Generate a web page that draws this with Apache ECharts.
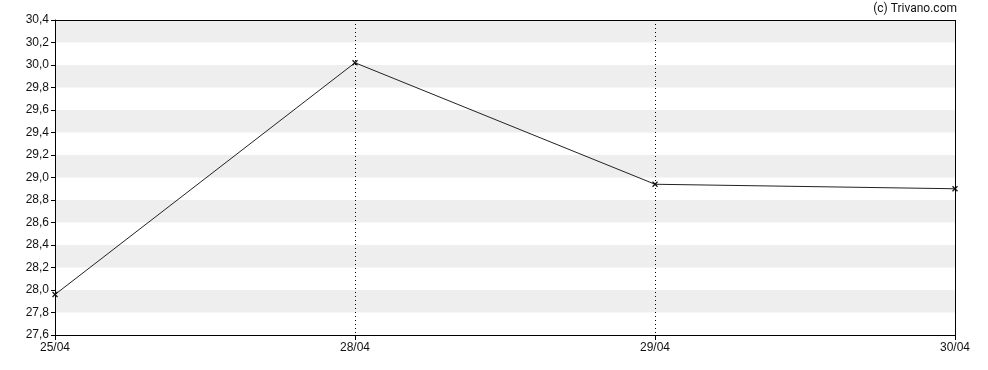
<!DOCTYPE html>
<html>
<head>
<meta charset="utf-8">
<script src="https://cdn.jsdelivr.net/npm/echarts@6/dist/echarts.min.js"></script>
<style>html,body{margin:0;padding:0;background:#fff}#c{width:988px;height:370px}</style>
</head>
<body>
<div id="c"></div>
<script>
var categories = ['25/04', '28/04', '29/04', '30/04'];
var prices = [27.96, 30.02, 28.94, 28.90];
var yTicks = { min: 27.6, max: 30.4, interval: 0.2 };
var copyright = '(c) Trivano.com';

var chart = echarts.init(document.getElementById('c'), null, { renderer: 'canvas' });
var labelFont = { color: '#111', fontSize: 12, fontFamily: 'Liberation Sans, Arial, sans-serif' };
chart.setOption({
  animation: false,
  title: {
    text: copyright, right: 31, top: 3, padding: 0,
    textStyle: { fontSize: 12, fontWeight: 'normal', color: '#111', fontFamily: 'Roboto, sans-serif' }
  },
  grid: { left: 55, right: 33, top: 20, bottom: 35, show: false },
  xAxis: {
    type: 'category', data: categories, boundaryGap: false,
    axisLine: { lineStyle: { color: '#000', width: 1 } },
    axisTick: { show: true, length: 5, lineStyle: { color: '#000' } },
    axisLabel: Object.assign({ margin: 7 }, labelFont),
    splitLine: { show: true, lineStyle: { color: '#000', type: [1, 3], width: 1 } }
  },
  yAxis: {
    type: 'value', min: yTicks.min, max: yTicks.max, interval: yTicks.interval,
    axisLine: { show: true, lineStyle: { color: '#000', width: 1 } },
    axisTick: { show: true, length: 4, lineStyle: { color: '#000' } },
    axisLabel: Object.assign({ margin: 6, formatter: function (v) { return v.toFixed(1).replace('.', ','); } }, labelFont),
    splitLine: { show: false },
    splitArea: { show: true, areaStyle: { color: ['#ffffff', '#eeeeee'] } }
  },
  series: [{
    type: 'line', data: prices, z: 5,
    symbol: 'path://M0,0L10,10M10,0L0,10', symbolSize: 5,
    itemStyle: { color: 'transparent', borderColor: '#111', borderWidth: 1.2 },
    lineStyle: { color: '#222', width: 1 }
  }]
});
var p0 = chart.convertToPixel({ gridIndex: 0 }, [0, yTicks.max]);
var p1 = chart.convertToPixel({ gridIndex: 0 }, [categories.length - 1, yTicks.min]);
var w = Math.round(p1[0] - p0[0]), h = Math.round(p1[1] - p0[1]);
chart.setOption({
  graphic: {
    elements: [
      { type: 'rect', z: 100, silent: true, left: Math.round(p0[0]), top: Math.round(p0[1]),
        shape: { width: w, height: 1 }, style: { fill: '#000' } },
      { type: 'rect', z: 100, silent: true, left: Math.round(p1[0]), top: Math.round(p0[1]),
        shape: { width: 1, height: h }, style: { fill: '#000' } }
    ]
  }
});
</script>
</body>
</html>
